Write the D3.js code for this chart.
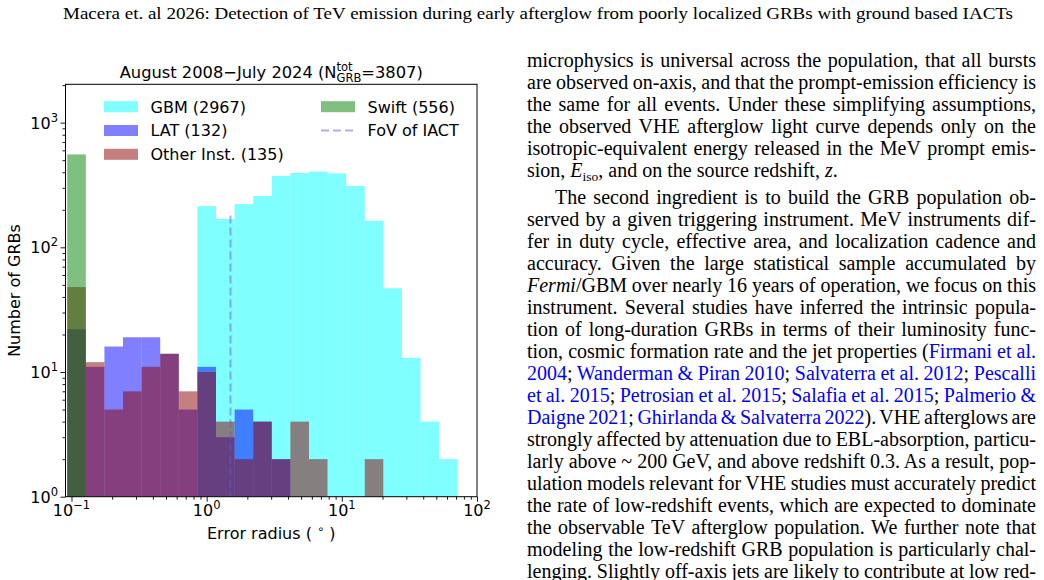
<!DOCTYPE html>
<html>
<head>
<meta charset="utf-8">
<script src="https://cdn.jsdelivr.net/npm/d3@7"></script>
<style>
body { margin: 0; background: #fff; width: 1044px; height: 580px; overflow: hidden; }
svg { position: absolute; left: 0; top: 0; }
</style>
</head>
<body>
<svg id="page" width="1044" height="580"></svg>
<script>
var svg = d3.select("#page");

// ---- data ----
// counts per log-spaced error-radius bin (21 bins from errMin to errMax deg)
var errMin = 0.093, errMax = 72.0, nBins = 21;
var gbmCounts   = [0, 0, 0, 0, 0, 0, 0, 214, 169, 222, 258, 373, 395, 405, 392, 310, 163, 47, 13, 4, 2];
var latCounts   = [22, 11, 16, 19, 19, 14, 5, 11, 3, 5, 4, 2, 0, 0, 0, 0, 0, 0, 0, 0, 0];
var otherCounts = [48, 12, 5, 7, 11, 14, 7, 10, 4, 2, 4, 2, 4, 2, 0, 0, 2, 0, 0, 0, 0];
var swiftCounts = [556, 0, 0, 0, 0, 0, 0, 0, 0, 0, 0, 0, 0, 0, 0, 0, 0, 0, 0, 0, 0];
var seriesNames  = ["GBM (2967)", "LAT (132)", "Other Inst. (135)", "Swift (556)"];
var seriesColors = ["cyan", "blue", "darkred", "green"];
var fovRadius = 1.5, fovTop = 180, fovName = "FoV of IACT";
var xTicks = [0.1, 1, 10, 100], xTickExp = ["\u22121", "0", "1", "2"];
var yTicks = [1, 10, 100, 1000], yTickExp = ["0", "1", "2", "3"];

var font = "DejaVu Sans";
var plot = {left: 65.5, right: 477, top: 84.3, bottom: 496.7};

var edges = d3.range(nBins + 1).map(function(i) { return errMin * Math.pow(errMax / errMin, i / nBins); });

var x = d3.scaleLog().domain([0.0903, 100]).range([plot.left, plot.right]);
var y = d3.scaleLog().domain([1, 2030]).range([plot.bottom, plot.top]);

//////////// HEADER ////////////
svg.append("text")
    .attr("x", 63).attr("y", 19)
    .attr("font-family", "Liberation Serif").attr("font-size", 17)
    .attr("textLength", 950).attr("lengthAdjust", "spacingAndGlyphs")
    .text("Macera et. al 2026: Detection of TeV emission during early afterglow from poorly localized GRBs with ground based IACTs");

//////////// HISTOGRAMS ////////////
svg.append("clipPath").attr("id", "clip")
  .append("rect")
    .attr("x", plot.left).attr("y", plot.top)
    .attr("width", plot.right - plot.left).attr("height", plot.bottom - plot.top);

var allCounts = [gbmCounts, latCounts, otherCounts, swiftCounts];
var bars = svg.append("g").attr("clip-path", "url(#clip)");
allCounts.forEach(function(counts, s) {
  bars.append("g")
      .attr("fill", seriesColors[s]).attr("fill-opacity", 0.5)
    .selectAll("rect")
    .data(counts.map(function(c, i) { return {c: c, x0: edges[i], x1: edges[i + 1]}; })
                .filter(function(d) { return d.c > 0; }))
    .enter().append("rect")
      .attr("x", function(d) { return x(d.x0); })
      .attr("width", function(d) { return x(d.x1) - x(d.x0); })
      .attr("y", function(d) { return y(d.c); })
      .attr("height", function(d) { return y(1) - y(d.c); });
});

// IACT field of view
svg.append("line")
    .attr("x1", x(fovRadius)).attr("x2", x(fovRadius))
    .attr("y1", y(fovTop)).attr("y2", y(1))
    .attr("stroke", "slateblue").attr("stroke-opacity", 0.5)
    .attr("stroke-width", 2).attr("stroke-dasharray", "8,4");

//////////// AXES ////////////
function minorTicks(domain) {
  var out = [];
  for (var e = -2; e <= 3; e++)
    for (var m = 2; m <= 9; m++) {
      var v = m * Math.pow(10, e);
      if (v >= domain[0] && v <= domain[1]) out.push(v);
    }
  return out;
}

var xAxisG = svg.append("g").attr("transform", "translate(0," + plot.bottom + ")");
xAxisG.call(d3.axisBottom(x).tickValues(xTicks).tickFormat("").tickSize(5).tickSizeOuter(0));
xAxisG.append("g").call(d3.axisBottom(x).tickValues(minorTicks(x.domain())).tickFormat("").tickSize(3).tickSizeOuter(0));

var yAxisG = svg.append("g").attr("transform", "translate(" + plot.left + ",0)");
yAxisG.call(d3.axisLeft(y).tickValues(yTicks).tickFormat("").tickSize(5).tickSizeOuter(0));
yAxisG.append("g").call(d3.axisLeft(y).tickValues(minorTicks(y.domain())).tickFormat("").tickSize(3).tickSizeOuter(0));

svg.selectAll(".domain").remove();
svg.selectAll(".tick line").attr("stroke", "#000").attr("stroke-width", 0.9);

svg.append("rect")
    .attr("x", plot.left).attr("y", plot.top)
    .attr("width", plot.right - plot.left).attr("height", plot.bottom - plot.top)
    .attr("fill", "none").attr("stroke", "#000").attr("stroke-width", 1);

function powLabel(sel, exp) {
  sel.append("tspan").text("10");
  sel.append("tspan").attr("font-size", 11.5).attr("dy", -7).text(exp);
}

xTicks.forEach(function(t, i) {
  svg.append("text")
      .attr("x", x(t)).attr("y", 516)
      .attr("text-anchor", "middle")
      .attr("font-family", font).attr("font-size", 16)
      .call(powLabel, xTickExp[i]);
});
yTicks.forEach(function(t, i) {
  svg.append("text")
      .attr("x", 58).attr("y", y(t) + 6)
      .attr("text-anchor", "end")
      .attr("font-family", font).attr("font-size", 16)
      .call(powLabel, yTickExp[i]);
});

// axis labels
var xl = svg.append("text")
    .attr("x", (plot.left + plot.right) / 2).attr("y", 539)
    .attr("text-anchor", "middle")
    .attr("font-family", font).attr("font-size", 16);
xl.append("tspan").text("Error radius ( ");
xl.append("tspan").attr("font-size", 11.5).attr("dy", -6).text("\u2218");
xl.append("tspan").attr("dy", 6).text(" )");

svg.append("text")
    .attr("transform", "translate(20," + ((plot.top + plot.bottom) / 2) + ") rotate(-90)")
    .attr("text-anchor", "middle")
    .attr("font-family", font).attr("font-size", 16)
    .text("Number of GRBs");

// title with stacked super/subscript
var tg = svg.append("g").attr("font-family", font).attr("font-size", 16.3);
var tBase = 78;
var t1 = tg.append("text").attr("y", tBase).text("August 2008\u2212July 2024 (N");
var tSup = tg.append("text").attr("y", tBase - 7.5).attr("font-size", 11.5).text("tot");
var tSub = tg.append("text").attr("y", tBase + 3.5).attr("font-size", 11.5).text("GRB");
var t3 = tg.append("text").attr("y", tBase).text("=3807)");
var w1 = t1.node().getComputedTextLength(),
    wS = Math.max(tSup.node().getComputedTextLength(), tSub.node().getComputedTextLength()),
    w3 = t3.node().getComputedTextLength();
var tx = (plot.left + plot.right) / 2 - (w1 + wS + w3) / 2;
t1.attr("x", tx);
tSup.attr("x", tx + w1);
tSub.attr("x", tx + w1);
t3.attr("x", tx + w1 + wS);

//////////// LEGEND ////////////
var legRows = [106.7, 130.5, 154.3];
var legend = svg.append("g").attr("font-family", font).attr("font-size", 16);
seriesNames.forEach(function(name, i) {
  var col = i < 3 ? 0 : 1, row = i < 3 ? i : i - 3;
  var hx = col ? 321 : 104, ty = legRows[row];
  legend.append("rect")
      .attr("x", hx).attr("y", ty - 5.5).attr("width", 34).attr("height", 11)
      .attr("fill", seriesColors[i]).attr("fill-opacity", 0.5);
  legend.append("text").attr("x", hx + 46.5).attr("y", ty + 5.8).text(name);
});
legend.append("line")
    .attr("x1", 321).attr("x2", 355).attr("y1", legRows[1]).attr("y2", legRows[1])
    .attr("stroke", "slateblue").attr("stroke-opacity", 0.5)
    .attr("stroke-width", 2).attr("stroke-dasharray", "8,4");
legend.append("text").attr("x", 367.5).attr("y", legRows[1] + 5.8).text(fovName);

//////////// BODY TEXT ////////////
function I(s) { return '<tspan font-style="italic">' + s + '</tspan>'; }
function L(s) { return '<tspan fill="#0000ff">' + s + '</tspan>'; }
function S(s) { return '<tspan font-size="13.5" baseline-shift="-4">' + s + '</tspan>'; }

// [markup, justify, indent, paragraph]
var bodyLines = [
  ["microphysics is universal across the population, that all bursts", 1, 0, 0],
  ["are observed on-axis, and that the prompt-emission efficiency is", 1, 0, 0],
  ["the same for all events. Under these simplifying assumptions,", 1, 0, 0],
  ["the observed VHE afterglow light curve depends only on the", 1, 0, 0],
  ["isotropic-equivalent energy released in the MeV prompt emis-", 1, 0, 0],
  ["sion, " + I("E") + S("iso") + ", and on the source redshift, " + I("z") + ".", 0, 0, 0],
  ["The second ingredient is to build the GRB population ob-", 1, 1, 1],
  ["served by a given triggering instrument. MeV instruments dif-", 1, 0, 1],
  ["fer in duty cycle, effective area, and localization cadence and", 1, 0, 1],
  ["accuracy. Given the large statistical sample accumulated by", 1, 0, 1],
  [I("Fermi") + "/GBM over nearly 16 years of operation, we focus on this", 1, 0, 1],
  ["instrument. Several studies have inferred the intrinsic popula-", 1, 0, 1],
  ["tion of long-duration GRBs in terms of their luminosity func-", 1, 0, 1],
  ["tion, cosmic formation rate and the jet properties (" + L("Firmani et al."), 1, 0, 1],
  [L("2004") + "; " + L("Wanderman &amp; Piran 2010") + "; " + L("Salvaterra et al. 2012") + "; " + L("Pescalli"), 1, 0, 1],
  [L("et al. 2015") + "; " + L("Petrosian et al. 2015") + "; " + L("Salafia et al. 2015") + "; " + L("Palmerio &amp;"), 1, 0, 1],
  [L("Daigne 2021") + "; " + L("Ghirlanda &amp; Salvaterra 2022") + "). VHE afterglows are", 1, 0, 1],
  ["strongly affected by attenuation due to EBL-absorption, particu-", 1, 0, 1],
  ["larly above ~ 200 GeV, and above redshift 0.3. As a result, pop-", 1, 0, 1],
  ["ulation models relevant for VHE studies must accurately predict", 1, 0, 1],
  ["the rate of low-redshift events, which are expected to dominate", 1, 0, 1],
  ["the observable TeV afterglow population. We further note that", 1, 0, 1],
  ["modeling the low-redshift GRB population is particularly chal-", 1, 0, 1],
  ["lenging. Slightly off-axis jets are likely to contribute at low red-", 1, 0, 1]
];
var textLeft = 527, textRight = 1036, firstBase = 66.5, lineStep = 22, paraGap = 5, indent = 28;

var body = svg.append("g").attr("font-family", "Liberation Serif").attr("font-size", 20);
bodyLines.forEach(function(l, i) {
  var x0 = textLeft + (l[2] ? indent : 0);
  var t = body.append("text")
      .attr("x", x0)
      .attr("y", firstBase + i * lineStep + (l[3] ? paraGap : 0))
      .html(l[0]);
  if (l[1]) {
    var w = t.node().getComputedTextLength();
    var spaces = (t.node().textContent.match(/ /g) || []).length;
    t.style("word-spacing", ((textRight - x0 - w) / spaces) + "px");
  }
});
</script>
</body>
</html>
